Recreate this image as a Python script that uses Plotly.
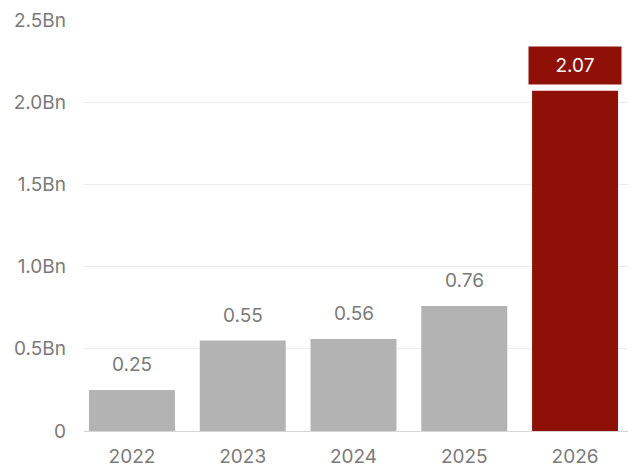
import plotly.graph_objects as go

# Annual values (billions)
years = ["2022", "2023", "2024", "2025", "2026"]
values = [0.25, 0.55, 0.56, 0.76, 2.07]
value_labels = ["0.25", "0.55", "0.56", "0.76", "2.07"]
tick_vals = [0, 0.5, 1.0, 1.5, 2.0, 2.5]
tick_text = ["0", "0.5Bn", "1.0Bn", "1.5Bn", "2.0Bn", "2.5Bn"]

GRAY = "#b3b3b3"
RED = "#8f1006"
TEXT = "#7a7a7a"
FONT = "Inter, Roboto, sans-serif"

colors = [GRAY] * (len(years) - 1) + [RED]

fig = go.Figure(
    go.Bar(
        x=list(range(len(years))),
        y=values,
        marker=dict(color=colors, line=dict(width=0)),
        hoverinfo="skip",
    )
)

annotations = []
for i, (v, lab) in enumerate(zip(values, value_labels)):
    if i == len(years) - 1:
        annotations.append(dict(
            x=i, y=v, xref="x", yref="y", text=lab,
            showarrow=False, yanchor="bottom", yshift=6,
            font=dict(family=FONT, size=19, color="white"),
            bgcolor=RED, width=88, height=33, borderpad=2,
        ))
    else:
        annotations.append(dict(
            x=i, y=v, xref="x", yref="y", text=lab,
            showarrow=False, yanchor="bottom", yshift=12,
            font=dict(family=FONT, size=19, color=TEXT),
        ))

fig.update_layout(
    width=637, height=468,
    margin=dict(l=84, r=9, t=20, b=37, autoexpand=False),
    plot_bgcolor="white", paper_bgcolor="white",
    bargap=0.224,
    showlegend=False,
    annotations=annotations,
    font=dict(family=FONT, size=19, color=TEXT),
)
fig.update_xaxes(
    range=[-0.433, 4.478],
    tickvals=list(range(len(years))), ticktext=years,
    showgrid=False, zeroline=False,
    showline=True, linecolor="#d6d6d6", linewidth=1,
    ticks="", ticklabelstandoff=8, automargin=False,
    tickfont=dict(family=FONT, size=19, color=TEXT),
)
fig.update_yaxes(
    range=[0, 2.5],
    tickvals=tick_vals, ticktext=tick_text,
    showgrid=True, gridcolor="#ebebeb", gridwidth=1,
    zeroline=False, showline=False, ticks="",
    ticklabelstandoff=17, automargin=False,
    tickfont=dict(family=FONT, size=19, color=TEXT),
)

fig.write_html("out.html")
